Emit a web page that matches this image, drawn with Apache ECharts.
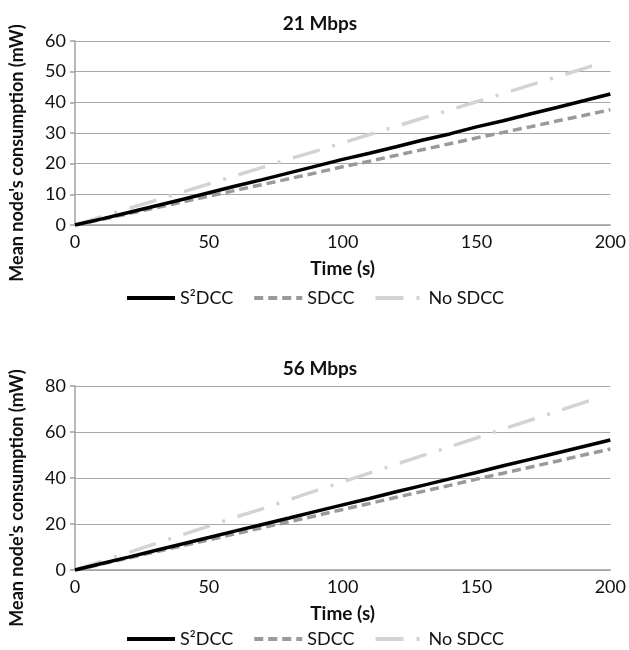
<!DOCTYPE html>
<html>
<head>
<meta charset="utf-8">
<script src="https://cdn.jsdelivr.net/npm/echarts@6/dist/echarts.min.js"></script>
<style>
  html, body { margin: 0; padding: 0; background: #fff; }
  #chart { width: 629px; height: 650px; }
</style>
</head>
<body>
<div id="chart"></div>
<script>
// Time samples (s) for the measured series
const timeSteps = [0, 10, 20, 30, 40, 50, 60, 70, 80, 90, 100, 110, 120, 130, 140, 150, 160, 170, 180, 190, 200];
const timeStepsNoSdcc = [0, 10, 20, 30, 40, 50, 60, 70, 80, 90, 100, 110, 120, 130, 140, 150, 160, 170, 180, 190, 195];

// 21 Mbps — mean node's consumption (mW)
const s2dcc21 = [0, 2.0, 4.1, 6.2, 8.3, 10.5, 12.7, 14.8, 17.0, 19.2, 21.4, 23.4, 25.5, 27.7, 29.7, 32.0, 34.0, 36.2, 38.3, 40.5, 42.7];
const sdcc21 = [0, 1.8, 3.7, 5.6, 7.5, 9.4, 11.3, 13.2, 15.1, 17.0, 19.0, 20.8, 22.7, 24.6, 26.5, 28.4, 30.2, 32.0, 33.9, 35.7, 37.6];
const noSdcc21 = [0, 2.7, 5.4, 8.0, 10.7, 13.4, 16.1, 18.8, 21.5, 24.1, 26.8, 29.5, 32.2, 34.9, 37.5, 40.2, 42.9, 45.6, 48.3, 51.0, 52.4];

// 56 Mbps — mean node's consumption (mW)
const s2dcc56 = [0, 2.8, 5.6, 8.5, 11.3, 14.1, 17.0, 19.8, 22.6, 25.5, 28.3, 31.1, 34.0, 36.8, 39.6, 42.4, 45.3, 48.1, 50.9, 53.7, 56.5];
const sdcc56 = [0, 2.6, 5.2, 7.9, 10.5, 13.1, 15.8, 18.4, 21.0, 23.6, 26.3, 28.9, 31.6, 34.2, 36.8, 39.5, 42.1, 44.7, 47.3, 50.0, 52.6];
const noSdcc56 = [0, 3.8, 7.6, 11.5, 15.3, 19.1, 23.0, 26.6, 30.6, 34.5, 38.3, 42.1, 46.0, 49.8, 53.6, 57.4, 61.3, 65.1, 68.9, 72.8, 74.6];

const seriesNames = ['S\u00b2DCC', 'SDCC', 'No SDCC'];
const panelTitles = ['21 Mbps', '56 Mbps'];
const yMax = [60, 80];
const yStep = [10, 20];
const xTitle = 'Time (s)';
const yTitle = "Mean node's consumption (mW)";

const FONT = 'Lato, "Open Sans", sans-serif';
const pair = (xs, ys) => xs.map((x, i) => [x, ys[i]]);

const lineStyles = [
  { color: '#000000', width: 3.5, type: 'solid' },
  { color: '#9a9a9a', width: 3.5, type: [9, 5] },
  { color: '#d3d3d3', width: 3.5, type: [28, 13, 3, 13] }
];

const panels = [
  { top: 41, legendTop: 284, data: [pair(timeSteps, s2dcc21), pair(timeSteps, sdcc21), pair(timeStepsNoSdcc, noSdcc21)] },
  { top: 386, legendTop: 625, data: [pair(timeSteps, s2dcc56), pair(timeSteps, sdcc56), pair(timeStepsNoSdcc, noSdcc56)] }
];
const plotHeight = 184;

const grids = [], xAxes = [], yAxes = [], series = [], titles = [], legends = [], graphics = [];

panels.forEach((p, k) => {
  grids.push({ left: 75, right: 16, top: p.top, height: plotHeight });
  xAxes.push({
    type: 'value', gridIndex: k, min: 0, max: 200, interval: 50,
    name: xTitle, nameLocation: 'middle', nameGap: 34,
    nameTextStyle: { fontFamily: FONT, fontSize: 19, fontWeight: 'bold', color: '#111' },
    axisLine: { show: true, lineStyle: { color: '#a0a0a0', width: 1.5 } },
    axisTick: { show: false },
    splitLine: { show: false },
    axisLabel: { fontFamily: FONT, fontSize: 18, color: '#111', margin: 8 }
  });
  yAxes.push({
    type: 'value', gridIndex: k, min: 0, max: yMax[k], interval: yStep[k],
    axisLine: { show: true, lineStyle: { color: '#a0a0a0', width: 1.5 } },
    axisTick: { show: true, inside: false, length: 5, lineStyle: { color: '#a0a0a0', width: 1.5 } },
    splitLine: { show: true, lineStyle: { color: '#a8a8a8', width: 1.2 } },
    axisLabel: { fontFamily: FONT, fontSize: 18, color: '#111', margin: 9 }
  });
  p.data.forEach((d, i) => {
    series.push({
      name: seriesNames[i], type: 'line', xAxisIndex: k, yAxisIndex: k,
      data: d, showSymbol: false, symbol: 'none', smooth: false,
      lineStyle: lineStyles[i], itemStyle: { color: lineStyles[i].color },
      z: 10 - i, silent: true
    });
  });
  titles.push({
    text: panelTitles[k], left: 315, textAlign: 'center', top: p.top - 32,
    textStyle: { fontFamily: FONT, fontSize: 19, fontWeight: 'bold', color: '#111' }
  });
  legends.push({
    data: seriesNames, top: p.legendTop, left: 'center', orient: 'horizontal',
    itemWidth: 48, itemHeight: 10, itemGap: 19,
    itemStyle: { opacity: 0 },
    lineStyle: { width: 4 },
    selectedMode: false,
    textStyle: { fontFamily: FONT, fontSize: 18, color: '#111', padding: [0, 0, 0, 0] }
  });
  graphics.push({
    type: 'text', x: 17, y: p.top + 112, rotation: Math.PI / 2,
    style: {
      text: yTitle, fontFamily: FONT, fontSize: 18, fontWeight: 'bold', fill: '#111',
      textAlign: 'center', textVerticalAlign: 'middle'
    }
  });
});

const chart = echarts.init(document.getElementById('chart'), null, { renderer: 'canvas' });
chart.setOption({
  backgroundColor: '#ffffff',
  animation: false,
  title: titles,
  legend: legends,
  grid: grids,
  xAxis: xAxes,
  yAxis: yAxes,
  series: series,
  graphic: graphics
});
</script>
</body>
</html>
